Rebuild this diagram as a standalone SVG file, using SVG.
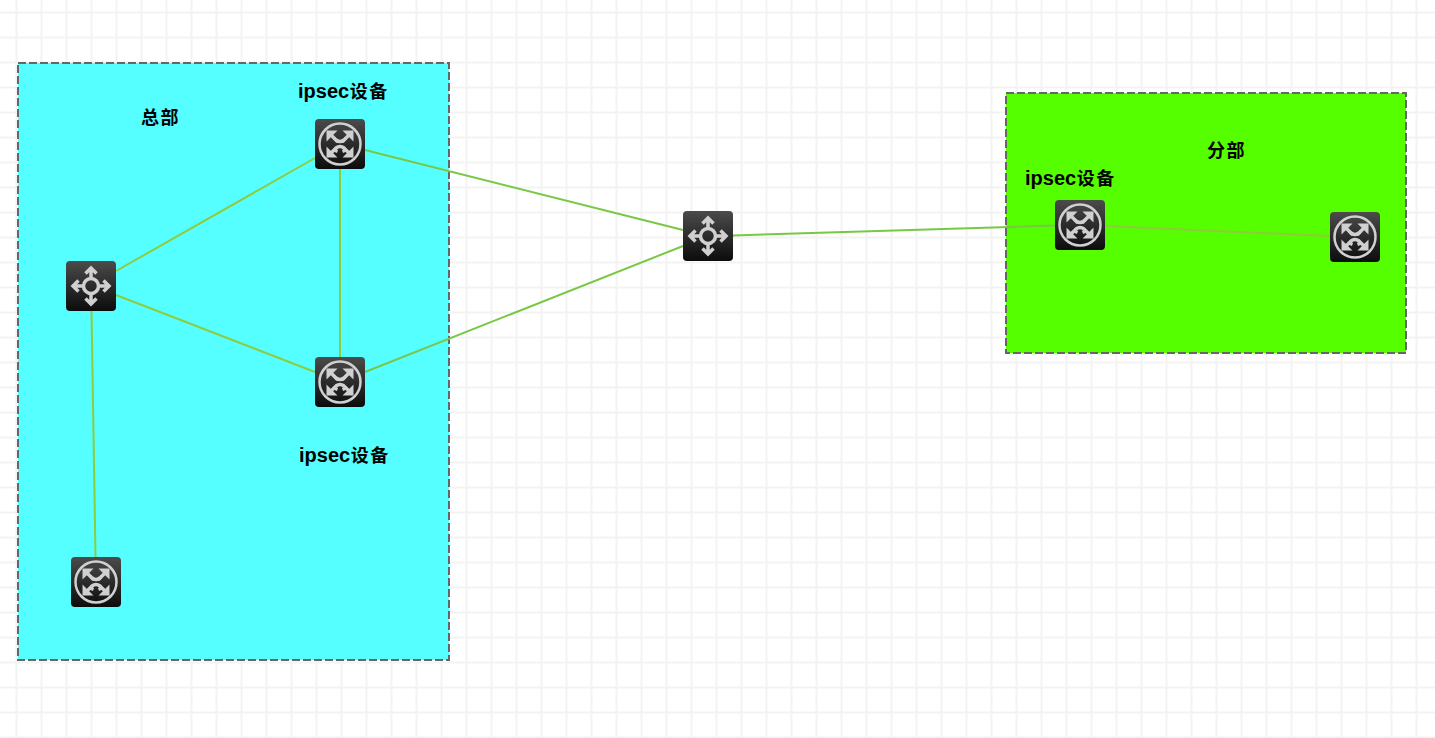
<svg xmlns="http://www.w3.org/2000/svg" width="1435" height="738" viewBox="0 0 1435 738">
<style>
.grid{stroke:#f3f3f3;stroke-width:2;fill:none}
.zone{stroke:#666;stroke-width:2;stroke-dasharray:8 3}
.link{fill:none;stroke-width:2}
.lat{font-family:"Liberation Sans",Arial,"Noto Sans CJK SC",sans-serif;font-size:20px;font-weight:bold;fill:#000}
.cjk{font-family:"Noto Sans CJK SC",sans-serif;font-size:18px;font-weight:bold;fill:#000;letter-spacing:1.5px}
.g{fill:#d0d0d0;stroke:none}
.gl{fill:none;stroke:#d0d0d0}
</style>
<defs>
<linearGradient id="bg" x1="0" y1="0" x2="0" y2="1"><stop offset="0" stop-color="#4b4b4b"/><stop offset="1" stop-color="#0c0c0c"/></linearGradient>
<g id="router">
<rect x="-25" y="-25" width="50" height="50" rx="4" fill="url(#bg)"/>
<circle r="20.500" class="gl" stroke-width="2.500"/>
<path class="g" d="M-13.500 -13.500H-2.500L-13.500 -2.500ZM13.500 -13.500H2.500L13.500 -2.500ZM-13.500 13.500H-2.500L-13.500 2.500ZM13.500 13.500H2.500L13.500 2.500Z"/>
<path class="gl" stroke-width="3.500" d="M-9 -9L-4 -4Q0 -1 4 -4L9 -9M-9 9L-4 4Q0 1 4 4L9 9"/>
<path class="gl" stroke-width="3" d="M-6 -6L-2.500 -2M6 -6L2.500 -2M-6 6L-2.500 7.500M6 6L2.500 7.500"/>
</g>
<g id="switch">
<rect x="-25" y="-25" width="50" height="50" rx="4" fill="url(#bg)"/>
<circle r="7.500" class="gl" stroke-width="3.500"/>
<path class="gl" stroke-width="3.500" d="M0 -8V-17M0 8V17M-8 0H-17M8 0H17M-5.500 -12.500L0 -18L5.500 -12.500M-5.500 12.500L0 18L5.500 12.500M-12.500 -5.500L-18 0L-12.500 5.500M12.500 -5.500L18 0L12.500 5.500"/>
</g>
</defs>
<rect width="1435" height="738" fill="#fff"/>
<path class="grid" d="M16.500 0V738M41.500 0V738M66.500 0V738M91.500 0V738M116.500 0V738M141.500 0V738M166.500 0V738M191.500 0V738M216.500 0V738M241.500 0V738M266.500 0V738M291.500 0V738M316.500 0V738M341.500 0V738M366.500 0V738M391.500 0V738M416.500 0V738M441.500 0V738M466.500 0V738M491.500 0V738M516.500 0V738M541.500 0V738M566.500 0V738M591.500 0V738M616.500 0V738M641.500 0V738M666.500 0V738M691.500 0V738M716.500 0V738M741.500 0V738M766.500 0V738M791.500 0V738M816.500 0V738M841.500 0V738M866.500 0V738M891.500 0V738M916.500 0V738M941.500 0V738M966.500 0V738M991.500 0V738M1016.500 0V738M1041.500 0V738M1066.500 0V738M1091.500 0V738M1116.500 0V738M1141.500 0V738M1166.500 0V738M1191.500 0V738M1216.500 0V738M1241.500 0V738M1266.500 0V738M1291.500 0V738M1316.500 0V738M1341.500 0V738M1366.500 0V738M1391.500 0V738M1416.500 0V738"/>
<path class="grid" d="M0 12.500H1435M0 37.500H1435M0 62.500H1435M0 87.500H1435M0 112.500H1435M0 137.500H1435M0 162.500H1435M0 187.500H1435M0 212.500H1435M0 237.500H1435M0 262.500H1435M0 287.500H1435M0 312.500H1435M0 337.500H1435M0 362.500H1435M0 387.500H1435M0 412.500H1435M0 437.500H1435M0 462.500H1435M0 487.500H1435M0 512.500H1435M0 537.500H1435M0 562.500H1435M0 587.500H1435M0 612.500H1435M0 637.500H1435M0 662.500H1435M0 687.500H1435M0 712.500H1435M0 737.500H1435"/>
<g id="zone-hq"><rect class="zone" x="18" y="63" width="431" height="597" fill="#55ffff"/></g>
<g id="zone-branch"><rect class="zone" x="1006" y="93" width="400" height="260" fill="#55ff00"/></g>
<g id="connectors">
<path class="link" stroke="#8fcb3e" d="M116 271L315 158"/>
<path class="link" stroke="#8fcb3e" d="M116 295L315 372"/>
<path class="link" stroke="#8fcb3e" d="M340 169V357"/>
<path class="link" stroke="#8fcb3e" d="M91.500 311L95.500 557"/>
<path class="link" stroke="#78c846" d="M365 150L683 230"/>
<path class="link" stroke="#78c846" d="M365 372L683 246"/>
<path class="link" stroke="#78c846" d="M733 235.500L1055 225.500"/>
<path class="link" stroke="#8fcb3e" d="M1105 226L1330 236"/>
</g>
<g id="sw-hq"><use href="#switch" x="91" y="286"/></g>
<g id="rt-top"><use href="#router" x="340" y="144"/></g>
<g id="rt-mid"><use href="#router" x="340" y="382"/></g>
<g id="rt-bottom"><use href="#router" x="96" y="582"/></g>
<g id="sw-core"><use href="#switch" x="708" y="236"/></g>
<g id="rt-branch1"><use href="#router" x="1080" y="225"/></g>
<g id="rt-branch2"><use href="#router" x="1355" y="237"/></g>
<g id="labels">
<text class="cjk" x="141" y="124">总部</text>
<text class="cjk" x="1207" y="157">分部</text>
<text x="298" y="98"><tspan class="lat">ipsec</tspan><tspan class="cjk" dx="0.500">设备</tspan></text>
<text x="299" y="462"><tspan class="lat">ipsec</tspan><tspan class="cjk" dx="0.500">设备</tspan></text>
<text x="1025" y="185"><tspan class="lat">ipsec</tspan><tspan class="cjk" dx="0.500">设备</tspan></text>
</g>
</svg>
